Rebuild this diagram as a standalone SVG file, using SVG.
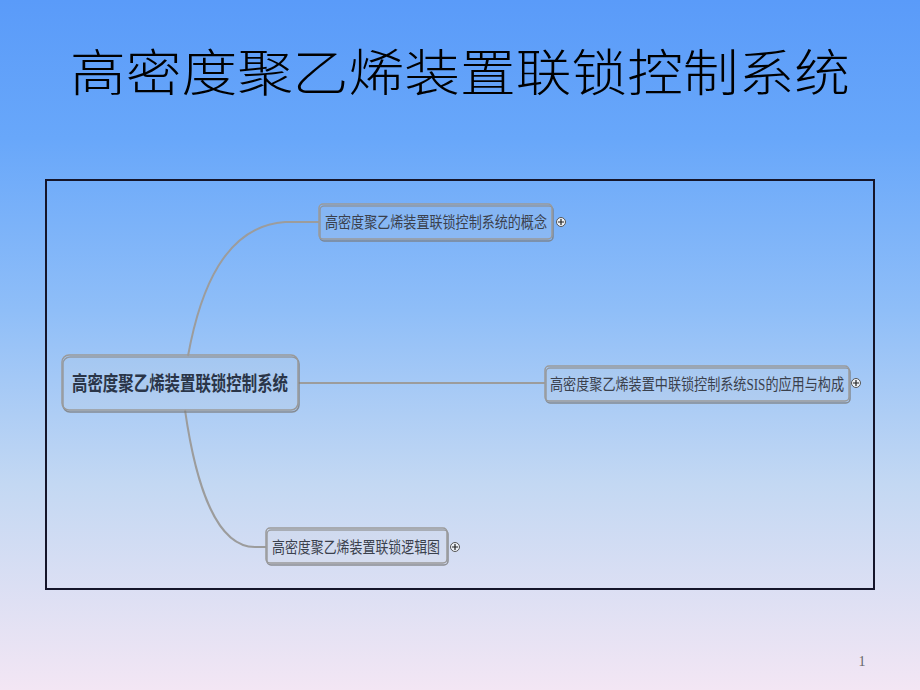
<svg xmlns="http://www.w3.org/2000/svg" width="920" height="690" viewBox="0 0 920 690">
<defs>
<linearGradient id="bg" x1="0" y1="0" x2="0" y2="1">
<stop offset="0" stop-color="#5a9bf9"/>
<stop offset="0.2" stop-color="#68a7fa"/>
<stop offset="0.45" stop-color="#8fbef8"/>
<stop offset="0.7" stop-color="#c3d8f3"/>
<stop offset="1" stop-color="#f3e6f4"/>
</linearGradient>
<filter id="sh" x="-5%" y="-10%" width="110%" height="130%">
<feDropShadow dx="1" dy="2" stdDeviation="0.6" flood-color="#7a7a7a" flood-opacity="0.8"/>
</filter>
</defs>
<style>
.title{font-family:"Noto Sans CJK SC",serif;font-size:50px;font-weight:300;fill:#000}
.node rect{fill:#ffffff;fill-opacity:0.08;stroke:#9a9a9a;stroke-width:1.5;filter:url(#sh)}
.main text{font-family:"Noto Sans CJK SC",sans-serif;font-size:20px;font-weight:bold;fill:#2a3548}
.child text{font-family:"Liberation Serif","Noto Sans CJK SC",serif;font-size:16px;fill:#3a404c}
.conn path{fill:none;stroke:#9c9c9c;stroke-width:2}
.plus circle{fill:#eef2f8;stroke:#555;stroke-width:1}
.plus path{stroke:#222;stroke-width:1.2}
</style>
<rect x="0" y="0" width="920" height="690" fill="url(#bg)"/>
<text class="title" x="460" y="91" text-anchor="middle" textLength="780" lengthAdjust="spacingAndGlyphs">高密度聚乙烯装置联锁控制系统</text>
<rect x="46" y="180" width="828" height="409" fill="none" stroke="#15152a" stroke-width="2"/>
<g class="conn" id="connectors">
<path d="M188 356 C200 290 225 226 285 222 L319 222"/>
<path d="M298 383 L545 383"/>
<path d="M185 410 C195 480 215 547 255 547 L266 547"/>
</g>
<g id="node-main" class="node main">
<rect x="62" y="355" width="236" height="55" rx="7"/>
<text x="180" y="391" text-anchor="middle" textLength="216" lengthAdjust="spacingAndGlyphs">高密度聚乙烯装置联锁控制系统</text>
</g>
<g id="node-concept" class="node child">
<rect x="319" y="204" width="233" height="35" rx="4"/>
<text x="436" y="228" text-anchor="middle" textLength="222" lengthAdjust="spacingAndGlyphs">高密度聚乙烯装置联锁控制系统的概念</text>
</g>
<g id="node-sis" class="node child">
<rect x="545" y="366" width="304" height="35" rx="4"/>
<text x="697" y="390" text-anchor="middle" textLength="294" lengthAdjust="spacingAndGlyphs">高密度聚乙烯装置中联锁控制系统SIS的应用与构成</text>
</g>
<g id="node-logic" class="node child">
<rect x="266" y="528" width="181" height="35" rx="4"/>
<text x="356" y="553" text-anchor="middle" textLength="168" lengthAdjust="spacingAndGlyphs">高密度聚乙烯装置联锁逻辑图</text>
</g>
<g class="plus" id="expanders">
<circle cx="561" cy="222" r="4.5"/><path d="M558 222h6M561 219v6"/>
<circle cx="856" cy="383" r="4.5"/><path d="M853 383h6M856 380v6"/>
<circle cx="455" cy="547" r="4.5"/><path d="M452 547h6M455 544v6"/>
</g>
<text x="862" y="666" font-family="Liberation Serif,serif" font-size="14" fill="#666" text-anchor="middle">1</text>
</svg>
